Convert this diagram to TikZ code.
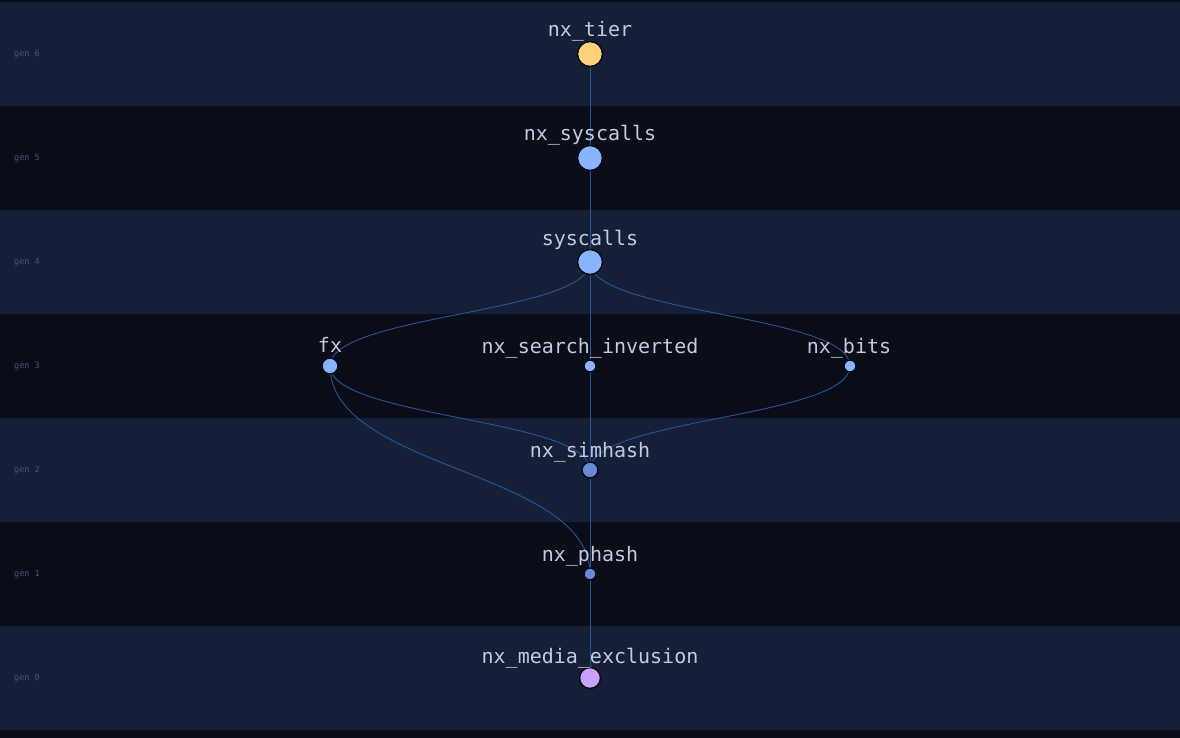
\documentclass[tikz,border=0pt]{standalone}
\usepackage{fontspec}
\setmonofont{DejaVu Sans Mono}
\usetikzlibrary{backgrounds}

% colours of the generation chart
\definecolor{bandlight}{HTML}{151F37}
\definecolor{banddark}{HTML}{0B0E18}
\definecolor{edgeblue}{HTML}{2A5390}
\definecolor{labelgray}{HTML}{C3CADE}
\definecolor{gengray}{HTML}{44537A}
\definecolor{nodeyellow}{HTML}{FFD27A}
\definecolor{nodeblue}{HTML}{8AB4FF}
\definecolor{nodemid}{HTML}{6A8AD8}
\definecolor{nodepurple}{HTML}{C9A2FF}

\tikzset{
  pkg/.style={circle, draw=banddark, line width=1.5pt, inner sep=0pt},
  pkgname/.style={font=\ttfamily\fontsize{20}{20}\selectfont, text=labelgray, anchor=base, inner sep=0pt},
  genname/.style={font=\ttfamily\fontsize{8.5}{8.5}\selectfont, text=gengray, anchor=west, inner sep=0pt},
  link/.style={draw=edgeblue, line width=0.9pt}
}

\begin{document}
\begin{tikzpicture}[x=1pt, y=-1pt]
    \useasboundingbox (0,0) rectangle (1180,738);

    % Packages, one row per generation
    \node[pkg, fill=nodeyellow, minimum size=25pt] (tier) at (590,54) {};
    \node[pkg, fill=nodeblue, minimum size=25pt] (nxsys) at (590,158) {};
    \node[pkg, fill=nodeblue, minimum size=25pt] (sys) at (590,262) {};
    \node[pkg, fill=nodeblue, minimum size=16pt] (fx) at (330,366) {};
    \node[pkg, fill=nodeblue, minimum size=12pt] (search) at (590,366) {};
    \node[pkg, fill=nodeblue, minimum size=12pt] (bits) at (850,366) {};
    \node[pkg, fill=nodemid, minimum size=16pt] (simhash) at (590,470) {};
    \node[pkg, fill=nodemid, minimum size=12pt] (phash) at (590,574) {};
    \node[pkg, fill=nodepurple, minimum size=21pt] (media) at (590,678) {};

    % Package names above the dots
    \node[pkgname] (tier-l) at (590,37) {nx\_tier};
    \node[pkgname] (nxsys-l) at (590,141) {nx\_syscalls};
    \node[pkgname] (sys-l) at (590,245) {syscalls};
    \node[pkgname] (fx-l) at (330,352) {fx};
    \node[pkgname] (search-l) at (590,353) {nx\_search\_inverted};
    \node[pkgname] (bits-l) at (849,353) {nx\_bits};
    \node[pkgname] (simhash-l) at (590,457) {nx\_simhash};
    \node[pkgname] (phash-l) at (590,561) {nx\_phash};
    \node[pkgname] (media-l) at (590,663) {nx\_media\_exclusion};

    % Generation labels on the left
    \foreach \g in {0,...,6} {
        \node[genname] (gen\g) at (14,{54+(6-\g)*104}) {gen \g};
    }

    \begin{scope}[on background layer]
        % Bands
        \fill[banddark] (0,0) rectangle (1180,738);
        \foreach \top in {2,210,418,626} {
            \fill[bandlight] (0,\top) rectangle (1180,\top+104);
        }

        % Dependencies
        \draw[link] (tier.center) -- (nxsys.center);
        \draw[link] (nxsys.center) -- (sys.center);
        \draw[link] (sys.center) .. controls (590,314) and (330,314) .. (fx.center);
        \draw[link] (sys.center) -- (search.center);
        \draw[link] (sys.center) .. controls (590,314) and (850,314) .. (bits.center);
        \draw[link] (fx.center) .. controls (330,418) and (590,418) .. (simhash.center);
        \draw[link] (fx.center) .. controls (330,470) and (590,470) .. (phash.center);
        \draw[link] (bits.center) .. controls (850,418) and (590,418) .. (simhash.center);
        \draw[link] (search.center) -- (simhash.center);
        \draw[link] (simhash.center) -- (phash.center);
        \draw[link] (phash.center) -- (media.center);
    \end{scope}
\end{tikzpicture}
\end{document}
